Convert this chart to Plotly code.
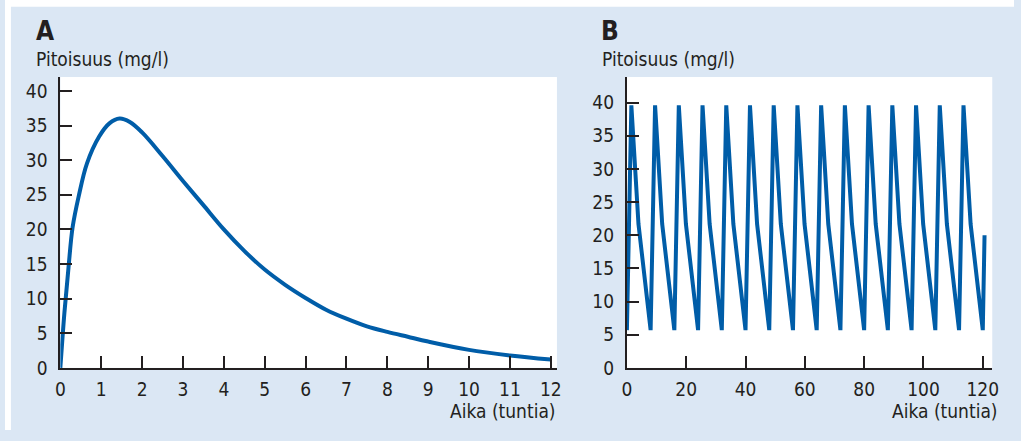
import plotly.graph_objects as go

# panel A: single dose
time_a = [0, 0.1, 0.2, 0.3, 0.45, 0.65, 0.95, 1.2, 1.45, 1.7, 2.0, 2.5, 3.0, 3.5,
          4.0, 4.5, 5.0, 5.5, 6.0, 6.5, 7.0, 7.5, 8.0, 8.5, 9.0, 10.0, 11.0, 12.0]
conc_a = [0, 8.0, 14.5, 20.3, 24.8, 29.5, 33.4, 35.3, 36.0, 35.5, 34.0, 30.6, 27.0, 23.5,
          20.0, 16.9, 14.2, 12.0, 10.1, 8.4, 7.1, 6.0, 5.2, 4.5, 3.8, 2.6, 1.8, 1.2]

# panel B: repeated dosing every 8 h
time_b = [0, 1.5, 2.2, 3.9,
          8, 9.5, 10.2, 11.9,
          16, 17.5, 18.2, 19.9,
          24, 25.5, 26.2, 27.9,
          32, 33.5, 34.2, 35.9,
          40, 41.5, 42.2, 43.9,
          48, 49.5, 50.2, 51.9,
          56, 57.5, 58.2, 59.9,
          64, 65.5, 66.2, 67.9,
          72, 73.5, 74.2, 75.9,
          80, 81.5, 82.2, 83.9,
          88, 89.5, 90.2, 91.9,
          96, 97.5, 98.2, 99.9,
          104, 105.5, 106.2, 107.9,
          112, 113.5, 114.2, 115.9,
          120, 120.6]
conc_b = [5.7, 39.6, 34.4, 21.7,
          5.7, 39.6, 34.4, 21.7,
          5.7, 39.6, 34.4, 21.7,
          5.7, 39.6, 34.4, 21.7,
          5.7, 39.6, 34.4, 21.7,
          5.7, 39.6, 34.4, 21.7,
          5.7, 39.6, 34.4, 21.7,
          5.7, 39.6, 34.4, 21.7,
          5.7, 39.6, 34.4, 21.7,
          5.7, 39.6, 34.4, 21.7,
          5.7, 39.6, 34.4, 21.7,
          5.7, 39.6, 34.4, 21.7,
          5.7, 39.6, 34.4, 21.7,
          5.7, 39.6, 34.4, 21.7,
          5.7, 39.6, 34.4, 21.7,
          5.7, 20.0]

W, H = 1021, 441
BG = '#dbe7f4'
LINE = '#005da8'
INK = '#231f20'
FONT = 'Liberation Sans Narrow, DejaVu Sans Condensed, Arial Narrow, sans-serif'


def px(x):
    return x / W


def py(y):
    return 1 - y / H


fig = go.Figure()
fig.add_trace(go.Scatter(x=time_a, y=conc_a, mode='lines', line=dict(color=LINE, width=4, shape='spline'),
                         xaxis='x', yaxis='y', showlegend=False, hoverinfo='skip'))
fig.add_trace(go.Scatter(x=time_b, y=conc_b, mode='lines', line=dict(color=LINE, width=4),
                         xaxis='x2', yaxis='y2', showlegend=False, hoverinfo='skip'))

axis_common = dict(showline=True, linecolor=INK, linewidth=2, ticks='inside', ticklen=12,
                   tickwidth=2, tickcolor=INK, showgrid=False, zeroline=False,
                   tickfont=dict(family=FONT, size=19, color=INK), fixedrange=True)

ydom = [py(377.3), py(79)]
fig.update_layout(
    width=W, height=H,
    margin=dict(l=0, r=0, t=0, b=0),
    paper_bgcolor=BG, plot_bgcolor='white',
    xaxis=dict(domain=[px(56), px(558.5)], range=[0, 12.15], tickmode='linear', tick0=0, dtick=1,
               anchor='y', ticklabelstandoff=3, **axis_common),
    yaxis=dict(domain=ydom, range=[0, 42.0], tickmode='linear', tick0=0, dtick=5,
               anchor='x', ticklabelstandoff=7, **axis_common),
    xaxis2=dict(domain=[px(629.3), px(999)], range=[0, 123.2], tickmode='linear', tick0=0, dtick=20,
                anchor='y2', ticklabelstandoff=3, **axis_common),
    yaxis2=dict(domain=ydom, range=[0, 43.87], tickmode='linear', tick0=0, dtick=5,
                anchor='x2', ticklabelstandoff=7, **axis_common),
)

# white strips around the light blue panel
fig.add_shape(type='rect', xref='paper', yref='paper', x0=0, x1=1, y0=py(7), y1=1,
              fillcolor='white', line_width=0, layer='below')
fig.add_shape(type='rect', xref='paper', yref='paper', x0=0, x1=px(6), y0=0, y1=1,
              fillcolor='white', line_width=0, layer='below')

labels = [
    ('<b>A</b>', 29, 32.3, 'left', 26),
    ('Pitoisuus (mg/l)', 29, 60.7, 'left', 19),
    ('<b>B</b>', 601.5, 32.3, 'left', 26),
    ('Pitoisuus (mg/l)', 602.5, 60.7, 'left', 19),
    ('Aika (tuntia)', 560, 421.5, 'right', 19),
    ('Aika (tuntia)', 1006.5, 421.5, 'right', 19),
]
for text, x, y, anchor, size in labels:
    fig.add_annotation(text=text, xref='paper', yref='paper', x=px(x), y=py(y),
                       xanchor=anchor, yanchor='middle', showarrow=False,
                       font=dict(family=FONT, size=size, color=INK))

page_js = ("document.body.style.margin='0';document.body.style.overflow='hidden';"
           "document.body.style.background='" + BG + "';"
           "document.documentElement.style.background='" + BG + "';")
fig.write_html('out.html', config={'displayModeBar': False}, post_script=page_js)
